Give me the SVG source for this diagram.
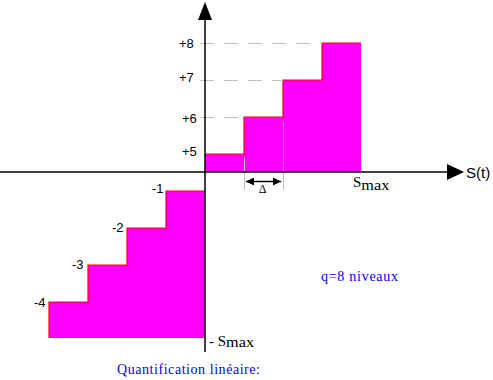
<svg xmlns="http://www.w3.org/2000/svg" width="493" height="380" viewBox="0 0 493 380">
<defs>
<style>
.step{fill:#ff00ff;stroke:none}
.edge{fill:none;stroke:#ff0000;stroke-width:1.2}
.axis{stroke:#000;stroke-width:1.5;fill:none}
.dash{stroke:#c0c0c0;stroke-width:1;stroke-dasharray:14 10;fill:none}
.guide{stroke:#c0c0c0;stroke-width:1;fill:none}
.lbl{font-family:"Liberation Sans",Arial,sans-serif;font-size:13px;fill:#000}
.ser{font-family:"Liberation Serif","Times New Roman",serif;fill:#000}
.blue{font-family:"Liberation Serif","Times New Roman",serif;fill:#0000ff;font-size:14px}
</style>
<marker id="ah" viewBox="0 0 10 10" refX="10" refY="5" markerWidth="8" markerHeight="8" markerUnits="userSpaceOnUse" orient="auto-start-reverse">
<path d="M0,0 L10,5 L0,10 Z" fill="#000"/>
</marker>
</defs>
<g id="steps-positive">
<rect class="step" x="205" y="154" width="39" height="18"/>
<rect class="step" x="244" y="117" width="39" height="55"/>
<rect class="step" x="283" y="80" width="39" height="92"/>
<rect class="step" x="322" y="43" width="39" height="129"/>
<path class="edge" d="M205,154 H244 V117 H283 V80 H322 V43 H361"/>
</g>
<g id="steps-negative">
<rect class="step" x="166" y="191" width="39" height="147"/>
<rect class="step" x="127" y="228" width="39" height="110"/>
<rect class="step" x="88" y="265" width="39" height="73"/>
<rect class="step" x="49" y="302" width="39" height="36"/>
<path class="edge" d="M205,191 H166 V228 H127 V265 H88 V302 H49 V338"/>
</g>
<g id="connectors">
<line class="dash" x1="200" y1="43.5" x2="322" y2="43.5"/>
<line class="dash" x1="200" y1="80.5" x2="283" y2="80.5"/>
<line class="dash" x1="200" y1="117.5" x2="244" y2="117.5"/>
<line class="guide" x1="244.5" y1="157" x2="244.5" y2="190"/>
<line class="guide" x1="283.5" y1="122" x2="283.5" y2="190"/>
<line x1="246" y1="181.5" x2="281" y2="181.5" stroke="#000" stroke-width="1.5" marker-start="url(#ah)" marker-end="url(#ah)"/>
<line class="axis" x1="205" y1="16" x2="205" y2="352"/>
<polygon points="205,2 198,20 212,20" fill="#000"/>
<line class="axis" x1="0" y1="172" x2="450" y2="172"/>
<polygon points="447,164 464,172 447,180" fill="#000"/>
</g>
<g id="labels">
<text class="lbl" x="179" y="48">+8</text>
<text class="lbl" x="179" y="82">+7</text>
<text class="lbl" x="182" y="123">+6</text>
<text class="lbl" x="182" y="156">+5</text>
<text class="lbl" x="152" y="193">-1</text>
<text class="lbl" x="112" y="232">-2</text>
<text class="lbl" x="72" y="269">-3</text>
<text class="lbl" x="34" y="307">-4</text>
<text class="lbl" x="466" y="178" style="font-size:15px">S(t)</text>
<text class="ser" x="262.5" y="193" text-anchor="middle" style="font-size:12px">Δ</text>
<text class="ser" x="353" y="187" style="font-size:15px">S<tspan y="189.5" style="font-size:14px" textLength="28" lengthAdjust="spacingAndGlyphs">max</tspan></text>
<text class="ser" x="209" y="346" style="font-size:15px">- S<tspan y="347" style="font-size:14px" textLength="28" lengthAdjust="spacingAndGlyphs">max</tspan></text>
<text class="blue" x="321" y="281" textLength="77">q=8 niveaux</text>
<text class="blue" x="117" y="374" textLength="143">Quantification linéaire:</text>
</g>
</svg>
